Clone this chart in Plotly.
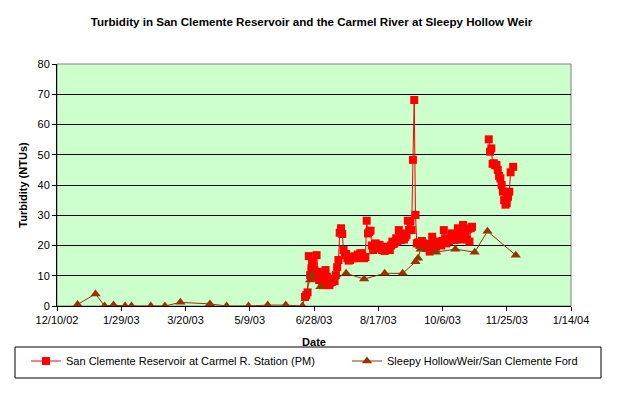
import plotly.graph_objects as go

# ---------------- data ----------------
red_name = "San Clemente Reservoir at Carmel R. Station (PM)"
red_dates = [
    "2003-06-21", "2003-06-22", "2003-06-23", "2003-06-24", "2003-06-25", "2003-06-26",
    "2003-06-27", "2003-06-28", "2003-06-29", "2003-06-30", "2003-07-01", "2003-07-02",
    "2003-07-03", "2003-07-04", "2003-07-05", "2003-07-06", "2003-07-07", "2003-07-08",
    "2003-07-09", "2003-07-10", "2003-07-11", "2003-07-12", "2003-07-13", "2003-07-14",
    "2003-07-15", "2003-07-16", "2003-07-17", "2003-07-18", "2003-07-19", "2003-07-20",
    "2003-07-21", "2003-07-22", "2003-07-23", "2003-07-24", "2003-07-25", "2003-07-26",
    "2003-07-27", "2003-07-28", "2003-07-29", "2003-07-30", "2003-07-31", "2003-08-01",
    "2003-08-02", "2003-08-03", "2003-08-04", "2003-08-05", "2003-08-06", "2003-08-07",
    "2003-08-08", "2003-08-09", "2003-08-10", "2003-08-11", "2003-08-12", "2003-08-13",
    "2003-08-14", "2003-08-15", "2003-08-16", "2003-08-17", "2003-08-18", "2003-08-19",
    "2003-08-20", "2003-08-21", "2003-08-22", "2003-08-23", "2003-08-24", "2003-08-25",
    "2003-08-26", "2003-08-27", "2003-08-28", "2003-08-29", "2003-08-30", "2003-08-31",
    "2003-09-01", "2003-09-02", "2003-09-03", "2003-09-04", "2003-09-05", "2003-09-06",
    "2003-09-07", "2003-09-08", "2003-09-09", "2003-09-10", "2003-09-11", "2003-09-12",
    "2003-09-13", "2003-09-14", "2003-09-15", "2003-09-16", "2003-09-17", "2003-09-18",
    "2003-09-19", "2003-09-20", "2003-09-21", "2003-09-22", "2003-09-23", "2003-09-24",
    "2003-09-25", "2003-09-26", "2003-09-27", "2003-09-28", "2003-09-29", "2003-09-30",
    "2003-10-01", "2003-10-02", "2003-10-03", "2003-10-04", "2003-10-05", "2003-10-06",
    "2003-10-07", "2003-10-08", "2003-10-09", "2003-10-10", "2003-10-11", "2003-10-12",
    "2003-10-13", "2003-10-14", "2003-10-15", "2003-10-16", "2003-10-17", "2003-10-18",
    "2003-10-19", "2003-10-20", "2003-10-21", "2003-10-22", "2003-10-23", "2003-10-24",
    "2003-10-25", "2003-10-26", "2003-10-27", "2003-10-28", "2003-10-29",
    "2003-11-05",
    "2003-11-11", "2003-11-12", "2003-11-13", "2003-11-14", "2003-11-15", "2003-11-16",
    "2003-11-17", "2003-11-18", "2003-11-19", "2003-11-20", "2003-11-21", "2003-11-22",
    "2003-11-23", "2003-11-24", "2003-11-25", "2003-11-26", "2003-11-27", "2003-11-28",
    "2003-11-30",
]
red_vals = [
    3.0, 3.6, 4.5, 16.5, 10.2, 12.5,
    14.6, 11.9, 9.5, 16.8, 11.3, 8.6,
    10.5, 8.6, 6.9, 9.2, 11.9, 9.7,
    8.0, 6.9, 7.8, 8.0, 9.0, 8.2,
    10.2, 12.8, 15.2, 24.2, 25.7, 23.8,
    18.5, 16.8, 17.2, 15.8, 15.0, 15.2,
    16.0, 16.3, 15.8, 16.4, 15.8, 17.0,
    16.5, 17.4, 17.4, 16.3, 15.8, 16.2,
    28.2, 24.0, 24.5, 24.9, 20.0, 18.5,
    19.2, 20.7, 19.8, 19.0, 20.2, 19.5,
    18.5, 19.0, 18.2, 19.6, 18.8, 19.2,
    18.5, 20.0, 21.3, 20.5, 21.0, 22.4,
    21.5, 25.1, 22.5, 21.8, 24.0, 22.0,
    22.8, 23.5, 28.2, 25.1, 27.9, 25.1,
    48.3, 68.1, 30.1, 20.7, 21.0, 20.2,
    20.7, 21.5, 20.7, 20.0, 19.2, 19.6,
    20.5, 18.0, 19.5, 22.9, 20.7, 20.2,
    19.6, 20.5, 21.0, 21.3, 20.0, 21.5,
    25.1, 22.4, 20.7, 22.0, 21.5, 22.0,
    24.0, 22.5, 21.8, 23.0, 22.0, 25.7,
    24.5, 22.0, 25.0, 26.8, 22.9, 24.5,
    22.0, 25.5, 21.3, 25.7, 26.2,
    None,
    55.1, 51.0, 52.1, 47.0, 47.2, 46.5,
    46.6, 45.0, 43.0, 42.2, 40.0, 37.8,
    35.0, 33.5, 34.0, 36.1, 37.8, 44.2,
    46.0,
]

brown_name = "Sleepy HollowWeir/San Clemente Ford"
brown_dates = [
    "2002-12-26", "2003-01-09", "2003-01-16", "2003-01-23", "2003-02-01", "2003-02-06",
    "2003-02-21", "2003-03-04", "2003-03-16", "2003-04-08", "2003-04-21", "2003-05-08",
    "2003-05-23", "2003-06-06", "2003-06-19", "2003-06-25", "2003-06-26", "2003-07-03",
    "2003-07-23", "2003-08-06", "2003-08-22", "2003-09-05", "2003-09-15", "2003-09-17",
    "2003-09-19", "2003-10-01", "2003-10-16", "2003-10-31", "2003-11-10", "2003-12-02",
]
brown_vals = [
    0.5, 4.0, 0.0, 0.3, 0.0, 0.0,
    0.0, 0.0, 1.2, 0.7, 0.0, 0.0,
    0.3, 0.3, 0.0, 8.6, 10.5, 6.4,
    10.8, 8.9, 10.8, 10.8, 14.6, 15.8,
    18.8, 17.8, 18.8, 17.8, 24.7, 16.8,
]

x_tick_vals = ["2002-12-10", "2003-01-29", "2003-03-20", "2003-05-09", "2003-06-28",
               "2003-08-17", "2003-10-06", "2003-11-25", "2004-01-14"]
x_tick_text = ["12/10/02", "1/29/03", "3/20/03", "5/9/03", "6/28/03",
               "8/17/03", "10/6/03", "11/25/03", "1/14/04"]
y_tick_vals = [0, 10, 20, 30, 40, 50, 60, 70, 80]

title_text = "Turbidity in San Clemente Reservoir and the Carmel River at Sleepy Hollow Weir"
x_title = "Date"
y_title = "Turbidity (NTUs)"

# ---------------- figure ----------------
FONT = "Liberation Sans, Arial, sans-serif"
RED = "#FF0000"
BROWN = "#993300"
L, R, T, B = 57, 52, 64, 90
PW, PH = 623 - L - R, 396 - T - B

def px_x(px):
    return (px - L) / PW

def px_y(py):
    return (396 - B - py) / PH

fig = go.Figure()
fig.add_trace(go.Scatter(
    x=red_dates, y=red_vals, name=red_name, mode="lines+markers",
    line=dict(color=RED, width=1),
    marker=dict(symbol="square", size=8, color=RED, line=dict(width=0)),
    connectgaps=False, legend="legend",
))
fig.add_trace(go.Scatter(
    x=brown_dates, y=brown_vals, name=brown_name, mode="lines+markers",
    line=dict(color=BROWN, width=1),
    marker=dict(symbol="triangle-up", size=9, color=BROWN, line=dict(width=0)),
    legend="legend2",
))

leg_common = dict(orientation="h", yanchor="middle", xanchor="left",
                  bgcolor="rgba(0,0,0,0)", borderwidth=0,
                  font=dict(size=11, family=FONT), itemwidth=30)

fig.update_layout(
    width=623, height=396,
    margin=dict(l=L, r=R, t=T, b=B, autoexpand=False),
    paper_bgcolor="white",
    plot_bgcolor="#CCFFCC",
    font=dict(family=FONT, size=11, color="black"),
    title=dict(text="<b>" + title_text + "</b>", x=0.5, xanchor="center",
               y=1 - 22 / 396, yanchor="middle", font=dict(size=11.6, family=FONT)),
    showlegend=True,
    legend=dict(x=px_x(26), y=px_y(361), **leg_common),
    legend2=dict(x=px_x(347), y=px_y(361), **leg_common),
    xaxis=dict(
        type="date", range=["2002-12-10", "2004-01-14"],
        tickmode="array", tickvals=x_tick_vals, ticktext=x_tick_text,
        ticks="outside", ticklen=4, tickcolor="black", tickwidth=1,
        showgrid=False, zeroline=False,
        showline=True, linecolor="black", linewidth=1,
        title=dict(text="<b>" + x_title + "</b>", standoff=13, font=dict(size=11)),
        tickfont=dict(size=11),
    ),
    yaxis=dict(
        range=[0, 80], tickmode="array", tickvals=y_tick_vals,
        ticks="outside", ticklen=4, tickcolor="black", tickwidth=1,
        showgrid=True, gridcolor="black", gridwidth=1,
        zeroline=False,
        showline=True, linecolor="black", linewidth=1,
        title=dict(text="<b>" + y_title + "</b>", standoff=7, font=dict(size=11)),
        tickfont=dict(size=11),
    ),
)

# gray plot-area border (top/right)
fig.add_shape(type="rect", xref="paper", yref="paper", x0=0, x1=1, y0=0, y1=1,
              line=dict(color="#808080", width=1), fillcolor="rgba(0,0,0,0)", layer="below")
# legend box
fig.add_shape(type="rect", xref="paper", yref="paper",
              x0=px_x(15), x1=px_x(601), y0=px_y(378), y1=px_y(347),
              line=dict(color="black", width=1), fillcolor="rgba(0,0,0,0)")

fig.write_html("out.html", config={"displayModeBar": False},
               post_script="document.body.style.margin='0';")
